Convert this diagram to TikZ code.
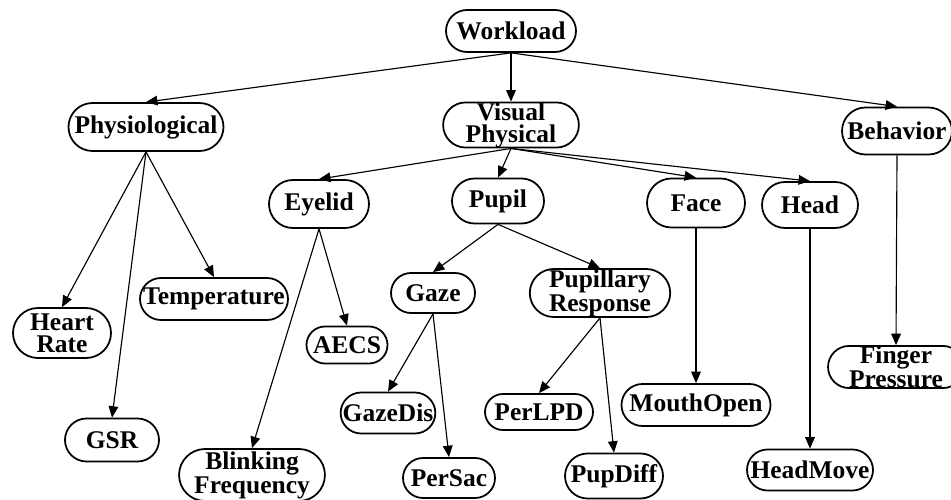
\documentclass[tikz,border=0pt]{standalone}
\usepackage{fontspec}
\setmainfont{Liberation Serif}
\usepackage{tikz}
\usetikzlibrary{
    shapes.misc,
    arrows.meta
}

\begin{document}
\begin{tikzpicture}[
      factor/.style={draw, rounded rectangle, line width=1pt, inner sep=0pt, align=center,
        font=\fontsize{14.5}{12.5}\selectfont\bfseries},
      arrow/.style={-{Triangle[length=6.5pt,width=5.5pt]}, line width=0.65pt}
    ]
    \useasboundingbox (0,0) rectangle (19.02,-10);

    \node[factor, minimum width=2.6cm, minimum height=0.84cm] (wl) at (10.22,-0.62) {Workload};
    \node[factor, minimum width=3.1cm, minimum height=0.96cm] (phys) at (2.92,-2.54) {Physiological};
    \node[factor, minimum width=2.6cm, minimum height=0.86cm] (vis) at (10.22,-2.5) {Visual\\Physical};
    \node[factor, minimum width=2.2cm, minimum height=0.94cm] (beh) at (17.94,-2.62) {Behavior};

    \node[factor, minimum width=2.0cm, minimum height=0.96cm] (eyelid) at (6.38,-4.08) {Eyelid};
    \node[factor, minimum width=1.84cm, minimum height=0.9cm] (pupil) at (9.96,-4.02) {Pupil};
    \node[factor, minimum width=1.96cm, minimum height=0.98cm] (face) at (13.92,-4.06) {Face};
    \node[factor, minimum width=1.92cm, minimum height=0.92cm] (head) at (16.2,-4.1) {Head};

    \node[factor, minimum width=1.96cm, minimum height=1.0cm] (hr) at (1.24,-6.66) {Heart\\Rate};
    \node[factor, minimum width=2.96cm, minimum height=0.84cm] (temp) at (4.28,-5.98) {Temperature};
    \node[factor, minimum width=1.88cm, minimum height=0.86cm] (gsr) at (2.24,-8.8) {GSR};
    \node[factor, minimum width=1.62cm, minimum height=0.74cm] (aecs) at (6.94,-6.9) {AECS};
    \node[factor, minimum width=2.46cm, minimum height=1.04cm] (blink) at (5.04,-9.5) {Blinking\\Frequency};
    \node[factor, minimum width=1.68cm, minimum height=0.8cm] (gaze) at (8.66,-5.86) {Gaze};
    \node[factor, minimum width=1.82cm, minimum height=0.82cm] (gdis) at (7.76,-8.26) {GazeDis};
    \node[factor, minimum width=1.84cm, minimum height=0.8cm] (persac) at (8.98,-9.56) {PerSac};
    \node[factor, minimum width=2.66cm, minimum height=0.96cm] (pres) at (12.0,-5.86) {Pupillary\\Response};
    \node[factor, minimum width=2.16cm, minimum height=0.72cm] (perlpd) at (10.78,-8.24) {PerLPD};
    \node[factor, minimum width=1.96cm, minimum height=0.9cm] (pdiff) at (12.28,-9.52) {PupDiff};
    \node[factor, minimum width=2.98cm, minimum height=0.84cm] (mouth) at (13.92,-8.1) {MouthOpen};
    \node[factor, minimum width=2.52cm, minimum height=0.82cm] (hmove) at (16.2,-9.4) {HeadMove};
    \node[factor, minimum width=2.2cm, minimum height=0.8cm] (finger) at (17.92,-7.34) {Finger\\Pressure};

    \draw[arrow] (wl.south) -- (phys.north);
    \draw[arrow] (wl.south) -- (vis.north);
    \draw[arrow] (wl.south) -- (beh.north);

    \draw[arrow] (phys.south) -- (hr.north);
    \draw[arrow] (phys.south) -- (gsr.north);
    \draw[arrow] (phys.south) -- (temp.north);

    \draw[arrow] (vis.south) -- (eyelid.north);
    \draw[arrow] (vis.south) -- (pupil.north);
    \draw[arrow] (vis.south) -- (face.north);
    \draw[arrow] (vis.south) -- (head.north);
    \draw[arrow] (beh.south) -- (finger.north);

    \draw[arrow] (eyelid.south) -- (blink.north);
    \draw[arrow] (eyelid.south) -- (aecs.north);
    \draw[arrow] (pupil.south) -- (gaze.north);
    \draw[arrow] (pupil.south) -- (pres.north);
    \draw[arrow] (face.south) -- (mouth.north);
    \draw[arrow] (head.south) -- (hmove.north);

    \draw[arrow] (gaze.south) -- (gdis.north);
    \draw[arrow] (gaze.south) -- (persac.north);
    \draw[arrow] (pres.south) -- (perlpd.north);
    \draw[arrow] (pres.south) -- (pdiff.north);
  \end{tikzpicture}
\end{document}
